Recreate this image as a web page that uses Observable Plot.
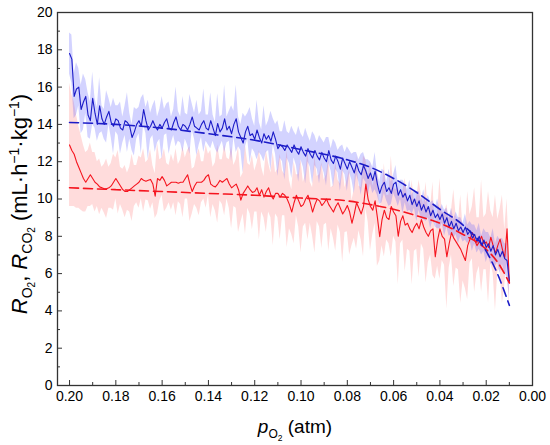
<!DOCTYPE html>
<html>
<head>
<meta charset="utf-8">
<script src="https://cdn.jsdelivr.net/npm/d3@7"></script>
<script src="https://cdn.jsdelivr.net/npm/@observablehq/plot@0.6"></script>
<style>
  html, body { margin: 0; padding: 0; background: #fff; }
  #chart { width: 550px; height: 445px; }
</style>
</head>
<body>
<div id="chart"></div>
<script>
// x grid: pO2 from 0.200 atm down to 0.010 atm in steps of 0.001
const xStart = 0.200, xStep = 0.001;

// R_O2 mean (blue), mL·h^-1·kg^-1
const blueMean = [
  17.8,17.5,15.5,15.9,16.0,14.8,15.2,15.5,14.5,14.2,
  15.4,14.6,14.0,15.0,14.3,14.0,14.4,14.7,14.1,13.9,
  14.3,14.2,13.8,13.7,14.2,14.1,13.9,13.3,13.6,14.0,
  14.2,13.9,14.8,14.2,13.7,13.9,14.2,13.9,13.7,14.0,
  13.8,14.1,14.3,13.8,13.7,14.1,14.4,13.9,13.7,14.0,
  13.9,13.7,14.0,14.4,13.9,13.8,13.7,14.0,14.2,13.8,
  13.7,14.2,13.8,13.4,14.05,13.6,13.8,14.3,13.7,13.9,
  13.5,14.0,14.3,13.6,13.3,13.0,13.6,13.9,13.4,13.5,
  13.2,13.7,13.3,13.0,13.5,13.2,13.4,13.1,13.6,13.2,
  12.7,12.9,12.8,12.6,12.9,12.7,12.5,12.9,12.6,12.4,
  12.8,12.5,12.3,12.7,12.4,12.2,12.6,12.3,12.1,12.5,
  12.2,12.0,12.6,12.1,11.9,12.3,12.0,11.6,12.2,11.9,
  11.6,12.0,11.7,11.4,11.9,11.5,11.3,11.8,11.5,11.1,
  11.4,11.0,11.5,10.8,10.3,10.7,10.9,10.4,10.6,10.3,
  10.8,10.9,10.2,10.5,10.1,10.3,9.9,10.2,9.7,10.0,
  9.6,9.9,9.4,9.7,9.3,9.6,9.1,9.4,9.0,9.2,
  8.9,9.2,8.7,9.0,8.5,8.8,8.4,8.7,8.3,8.5,
  8.2,8.5,8.1,8.3,7.9,8.1,7.7,8.0,7.5,7.8,
  7.4,7.6,7.2,7.5,7.0,7.3,6.9,7.2,6.8,6.7,
  5.6
];
// R_O2 standard deviation (blue band half-width)
const blueSd = [
  1.1,1.3,1.2,1.4,1.0,1.3,1.5,0.9,1.2,1.0,
  1.4,0.8,0.9,1.5,0.7,0.8,1.4,0.7,0.8,1.5,
  0.7,0.8,1.4,0.7,0.8,1.6,0.7,0.7,1.3,0.8,
  0.7,1.5,0.8,0.7,1.6,0.7,0.8,1.4,0.7,0.8,
  1.7,0.7,0.8,1.4,0.7,0.7,1.6,0.8,0.7,1.5,
  0.7,0.8,1.6,0.7,0.7,1.5,0.8,0.7,1.7,0.7,
  0.8,1.5,0.7,0.7,1.6,0.8,0.7,1.8,0.7,0.8,
  1.5,0.7,1.8,0.8,0.7,1.6,0.8,0.7,1.5,0.8,
  0.7,1.6,0.8,0.7,1.5,0.7,0.8,1.6,0.7,0.8,
  1.5,0.7,0.8,1.6,0.7,0.8,1.4,0.7,0.8,1.5,
  0.7,0.8,1.5,0.7,0.7,1.4,0.8,0.7,1.3,0.7,
  0.8,1.3,0.7,0.6,1.3,0.7,0.6,1.2,0.7,0.6,
  1.2,0.6,0.7,1.1,0.6,0.6,1.1,0.7,0.6,1.0,
  0.6,0.7,1.0,0.6,0.6,0.9,0.6,0.5,1.0,0.6,
  0.5,0.9,0.6,0.5,0.9,0.5,0.6,0.8,0.5,0.5,
  0.8,0.5,0.5,0.8,0.5,0.6,0.7,0.5,0.5,0.8,
  0.5,0.5,0.7,0.5,0.5,0.7,0.5,0.6,0.7,0.5,
  0.5,0.7,0.5,0.5,0.7,0.5,0.6,0.7,0.5,0.6,
  0.8,0.6,0.7,0.9,0.6,0.7,0.9,0.7,0.8,0.9,
  0.8
];
// R_CO2 mean (red)
const redMean = [
  12.9,12.6,12.4,12.0,11.7,11.4,11.1,10.9,11.1,11.3,
  11.1,10.9,10.8,10.65,10.6,10.55,10.55,10.6,10.7,10.9,
  11.1,10.9,10.7,10.5,10.4,10.4,10.5,10.6,10.7,10.8,
  10.9,11.1,11.0,10.95,11.0,11.05,10.8,10.15,11.1,11.0,
  11.2,11.0,10.7,10.8,10.9,10.9,10.9,10.85,10.9,10.9,
  11.1,11.3,10.8,10.4,10.7,10.9,10.9,10.9,11.0,11.2,
  11.3,10.8,10.7,10.65,10.8,11.0,10.9,11.0,11.1,10.8,
  10.6,10.7,10.8,10.5,9.94,10.3,10.5,10.7,10.5,10.35,
  10.4,10.6,10.2,10.5,10.1,10.4,10.6,10.2,10.0,10.3,
  10.3,10.1,10.3,10.2,10.0,9.7,9.3,9.8,10.2,9.9,
  9.6,9.7,10.0,10.2,9.8,9.3,9.7,10.0,9.9,9.65,
  9.8,10.0,9.7,9.5,9.3,9.6,9.8,9.5,9.2,9.4,
  9.65,9.3,8.7,9.2,9.8,9.5,9.2,9.6,10.8,9.98,
  9.6,9.4,9.9,9.0,7.98,8.9,9.4,9.0,8.9,9.6,
  9.3,9.1,8.0,8.8,9.1,8.6,8.7,8.4,8.2,8.5,
  8.7,8.4,8.9,8.5,8.2,8.0,8.3,8.4,6.9,7.8,
  8.4,8.0,7.85,6.9,7.6,8.2,7.9,7.7,7.5,7.3,
  7.0,6.7,7.5,7.85,8.2,7.8,7.5,7.7,8.0,7.6,
  7.7,7.4,7.95,7.5,7.1,7.5,7.85,7.3,6.85,8.4,
  5.5
];
// R_CO2 standard deviation (red band half-width)
const redSd = [
  3.3,3.0,2.8,2.5,2.2,2.0,1.8,1.6,1.5,1.7,
  1.4,1.6,1.2,1.5,1.1,1.3,1.6,1.1,1.2,1.5,
  1.1,1.7,1.0,1.1,1.4,1.0,1.2,1.8,1.1,1.0,
  1.4,1.1,1.7,1.0,1.1,1.6,1.0,1.2,1.9,1.1,
  1.0,1.7,1.2,1.0,1.5,1.1,1.8,1.0,1.2,1.9,
  1.1,1.3,2.0,1.2,1.0,1.4,1.8,1.1,1.0,1.7,
  1.1,1.8,1.0,1.3,2.1,1.1,1.2,1.9,1.1,1.3,
  2.2,1.1,1.3,2.3,1.2,1.1,2.4,1.2,1.3,2.0,
  1.1,1.3,2.4,1.2,1.1,2.2,1.3,1.2,2.5,1.1,
  1.3,2.3,1.2,1.1,2.6,1.3,1.2,2.2,1.1,1.4,
  2.5,1.2,1.3,2.4,1.1,1.3,2.6,1.2,1.4,2.3,
  1.2,1.3,2.5,1.1,1.4,2.4,1.2,1.3,2.6,1.2,
  1.4,2.3,1.2,1.3,2.5,1.2,1.4,2.7,1.3,1.2,
  2.4,1.3,1.2,2.6,1.3,1.4,2.5,1.2,1.3,2.7,
  1.3,1.4,2.6,1.2,1.3,2.5,1.4,1.2,2.8,1.3,
  1.4,2.6,1.3,1.2,2.7,1.4,1.3,2.5,1.2,1.4,
  2.7,1.3,1.4,2.8,1.3,1.2,2.6,1.4,1.3,2.9,
  1.4,1.5,2.9,1.3,1.4,2.8,1.5,1.3,3.0,1.4,
  1.5,3.0,1.4,1.5,3.1,1.4,1.6,2.9,1.5,1.6,
  1.5
];

// fitted (dashed) curves
const fitX    = [0.20,0.18,0.16,0.14,0.12,0.10,0.08,0.07,0.06,0.05,0.04,0.03,0.02,0.015,0.01];
const blueFit = [14.1,14.0,13.8,13.5,13.15,12.65,12.1,11.7,11.1,10.35,9.45,8.6,7.2,5.95,4.3];
const redFit  = [10.6,10.5,10.4,10.3,10.2,10.05,9.9,9.7,9.45,9.1,8.7,8.1,7.3,6.6,5.5];

// axis ticks
const xMajor = [0.20,0.18,0.16,0.14,0.12,0.10,0.08,0.06,0.04,0.02,0.00];
const xMinor = [0.19,0.17,0.15,0.13,0.11,0.09,0.07,0.05,0.03,0.01];
const yMajor = [0,2,4,6,8,10,12,14,16,18,20];
const yMinor = [1,3,5,7,9,11,13,15,17,19];

const series = blueMean.map((b, i) => ({
  x: +(xStart - i * xStep).toFixed(3),
  b, bLo: b - blueSd[i], bHi: b + blueSd[i],
  r: redMean[i], rLo: redMean[i] - redSd[i], rHi: redMean[i] + redSd[i]
}));
const fits = fitX.map((x, i) => ({x, b: blueFit[i], r: redFit[i]}));

const W = 550, H = 445, mL = 57, mR = 18, mT = 12, mB = 60;
const innerW = W - mL - mR, innerH = H - mT - mB;
const BLUE = "#1c1cc8", RED = "#f5141e";
const font = "'Liberation Sans', Arial, sans-serif";

const chart = Plot.plot({
  width: W, height: H,
  marginLeft: mL, marginRight: mR, marginTop: mT, marginBottom: mB,
  style: {fontSize: "14px", fontFamily: font, color: "#000", background: "#fff"},
  x: {domain: [0.2052, 0], ticks: xMajor, tickFormat: d3.format(".2f")},
  y: {domain: [0, 20], ticks: yMajor},
  marks: [
    Plot.areaY(series, {x: "x", y1: "rLo", y2: "rHi", fill: "#ff5050", fillOpacity: 0.2}),
    Plot.areaY(series, {x: "x", y1: "bLo", y2: "bHi", fill: "#5050ff", fillOpacity: 0.25}),
    Plot.lineY(series, {x: "x", y: "r", stroke: RED, strokeWidth: 1.1}),
    Plot.lineY(series, {x: "x", y: "b", stroke: BLUE, strokeWidth: 1.1}),
    Plot.lineY(fits, {x: "x", y: "r", stroke: RED, strokeWidth: 1.6, strokeDasharray: "9,5", curve: "monotone-x"}),
    Plot.lineY(fits, {x: "x", y: "b", stroke: BLUE, strokeWidth: 1.6, strokeDasharray: "9,5", curve: "monotone-x"}),
    Plot.axisX({ticks: xMajor, tickSize: 0, tickPadding: 6, tickFormat: d3.format(".2f"), label: null, fill: "#000"}),
    Plot.axisY({ticks: yMajor, tickSize: 0, tickPadding: 5, label: null, fill: "#000"}),
    Plot.tickX(xMajor, {x: d => d, insetTop: innerH - 5, stroke: "#333", strokeWidth: 1}),
    Plot.tickX(xMinor, {x: d => d, insetTop: innerH - 3, stroke: "#333", strokeWidth: 1}),
    Plot.tickY(yMajor, {y: d => d, insetRight: innerW - 5, stroke: "#333", strokeWidth: 1}),
    Plot.tickY(yMinor, {y: d => d, insetRight: innerW - 3, stroke: "#333", strokeWidth: 1}),
    Plot.frame({stroke: "#333", strokeWidth: 1.3})
  ]
});

const svg = d3.select(chart);
// x-axis title: p_O2 (atm)
const xt = svg.append("text")
  .attr("x", 295).attr("y", 433)
  .attr("text-anchor", "middle")
  .attr("font-family", font).attr("font-size", 19).attr("fill", "#000");
xt.append("tspan").attr("font-style", "italic").text("p");
xt.append("tspan").attr("font-size", 12).attr("dy", 5).text("O");
xt.append("tspan").attr("font-size", 8.5).attr("dy", 3).text("2");
xt.append("tspan").attr("dy", -8).text(" (atm)");

// y-axis title: R_O2, R_CO2 (mL·h^-1·kg^-1)
const yt = svg.append("text")
  .attr("transform", "translate(27,204) rotate(-90)")
  .attr("text-anchor", "middle")
  .attr("font-family", font).attr("font-size", 22).attr("fill", "#000");
yt.append("tspan").attr("font-style", "italic").text("R");
yt.append("tspan").attr("font-size", 14).attr("dy", 5).text("O");
yt.append("tspan").attr("font-size", 10).attr("dy", 3).text("2");
yt.append("tspan").attr("dy", -8).text(", ");
yt.append("tspan").attr("font-style", "italic").text("R");
yt.append("tspan").attr("font-size", 14).attr("dy", 5).text("CO");
yt.append("tspan").attr("font-size", 10).attr("dy", 3).text("2");
yt.append("tspan").attr("dy", -8).text(" (mL·h");
yt.append("tspan").attr("font-size", 14).attr("dy", -8).text("−1");
yt.append("tspan").attr("dy", 8).text("·kg");
yt.append("tspan").attr("font-size", 14).attr("dy", -8).text("−1");
yt.append("tspan").attr("dy", 8).text(")");

document.getElementById("chart").appendChild(chart);
</script>
</body>
</html>
